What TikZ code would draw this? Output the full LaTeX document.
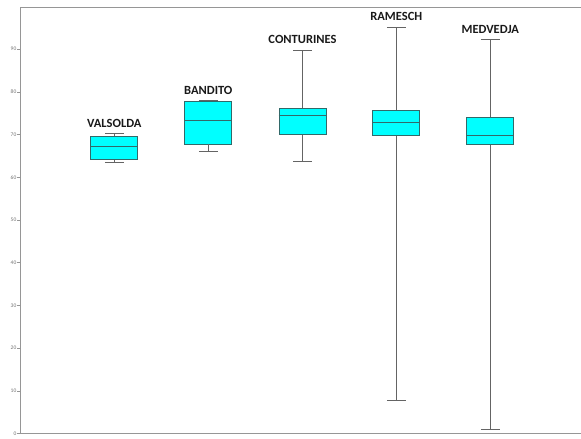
\documentclass[tikz,border=0pt]{standalone}
\usepackage{fontspec}
\setmainfont{Carlito}
\definecolor{boxfill}{RGB}{0,255,255}
\definecolor{boxline}{RGB}{50,105,105}
\definecolor{whisk}{RGB}{100,100,100}
\definecolor{axisc}{RGB}{150,150,150}
\begin{document}
\begin{tikzpicture}[x=1pt,y=-1pt,
  box/.style={draw=boxline,line width=0.9pt,fill=boxfill},
  medline/.style={draw=boxline,line width=0.9pt},
  whiskline/.style={draw=whisk,line width=0.8pt},
  capline/.style={draw=whisk,line width=0.8pt},
  axisline/.style={draw=axisc,line width=1pt},
  ticklab/.style={font=\fontsize{5.5}{6.5}\selectfont,text=black!55,anchor=east,inner sep=0pt},
  grp/.style={font=\fontsize{12.5}{14}\selectfont\bfseries,text=black!90,inner sep=0pt}]
\useasboundingbox (0,0) rectangle (581,439);
% frame
\coordinate (tl) at (20,7);
\coordinate (tr) at (581,7);
\coordinate (bl) at (20,433.5);
\coordinate (br) at (581,433.5);
\draw[axisline] (tr) -- (tl) -- (bl) -- (br);
% ticks
\foreach \v in {0,10,...,90}{
  \coordinate (tk\v) at (20,{433.5-4.27*\v});
  \draw[axisline,line width=0.6pt] (tk\v) -- ++(-3,0);
  \node[ticklab] (tl\v) at ([xshift=-3.5pt]tk\v) {\v};
}
% box helper: #1 name, #2 x, #3 top, #4 bottom, #5 median, #6 cap top, #7 cap bottom, #8 label y, #9 label
\newcommand{\mybox}[9]{%
  \node[box,minimum width=47pt,minimum height={#4-#3},inner sep=0pt] (#1) at (#2,{(#3+#4)/2}) {};
  \coordinate (#1ml) at (#1.west |- 0,#5);
  \coordinate (#1mr) at (#1.east |- 0,#5);
  \coordinate (#1t) at (#2,#6);
  \coordinate (#1b) at (#2,#7);
  \draw[whiskline] (#1.north) -- (#1t);
  \draw[whiskline] (#1.south) -- (#1b);
  \draw[capline] ([xshift=-9.5pt]#1t) -- ([xshift=9.5pt]#1t);
  \draw[capline] ([xshift=-9.5pt]#1b) -- ([xshift=9.5pt]#1b);
  \draw[medline] (#1ml) -- (#1mr);
  \node[grp] (#1lab) at (#2,#8) {#9};
}
\mybox{va}{114.3}{136}{159.3}{146.7}{133.3}{162.3}{123}{VALSOLDA}
\mybox{ba}{208.3}{101.7}{144}{120}{100.3}{151.3}{90}{BANDITO}
\mybox{co}{302.5}{108.3}{134.3}{115}{50}{161.7}{39}{CONTURINES}
\mybox{ra}{396.3}{110}{135.3}{122}{27.7}{400.3}{16.7}{RAMESCH}
\mybox{me}{490.3}{117.3}{144.3}{135}{39.3}{429}{29}{MEDVEDJA}
\end{tikzpicture}
\end{document}
